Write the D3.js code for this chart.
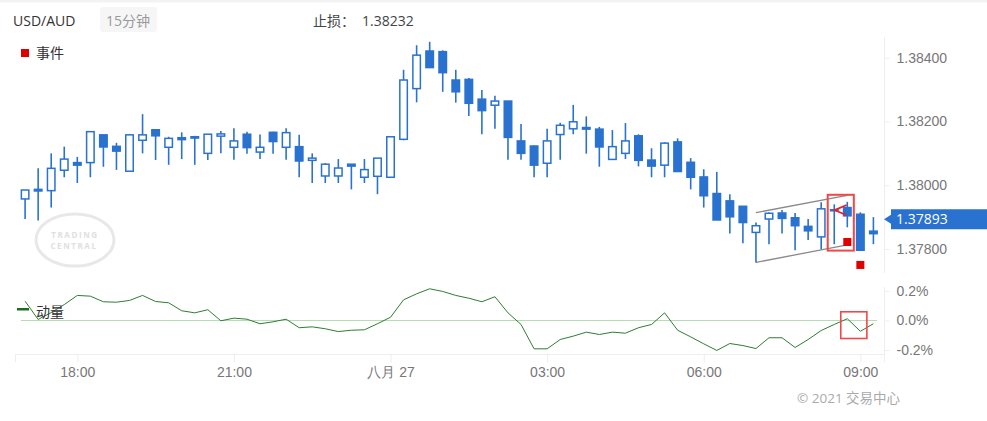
<!DOCTYPE html>
<html><head><meta charset="utf-8">
<script src="https://cdn.jsdelivr.net/npm/d3@7"></script>
<style>
html,body{margin:0;padding:0;background:#fff;}
svg{display:block;font-family:"Open Sans","Noto Sans CJK SC",sans-serif;}
</style></head>
<body>
<svg id="c" width="987" height="421"></svg>
<script>
// ---- data ----
const startTime = new Date(2021, 7, 26, 17, 0);
const barMinutes = 15;
const open = [1.37957,1.37987,1.37983,1.38047,1.38071,1.38071,1.38158,1.38122,1.38044,1.38141,
1.38174,1.38119,1.38149,1.38152,1.38100,1.38154,1.38119,1.38160,1.38104,1.38166,
1.38119,1.38121,1.38078,1.38029,1.38029,1.38066,1.38025,1.38028,1.38025,1.38144,
1.38303,1.38421,1.38419,1.38330,1.38332,1.38270,1.38251,1.38264,1.38139,1.38123,
1.38069,1.38159,1.38177,1.38181,1.38176,1.38081,1.38100,1.38155,1.38079,1.38063,
1.38136,1.38072,1.38026,1.37974,1.37951,1.37934,1.37852,1.37894,1.37913,1.37898,
1.37871,1.37838,1.37923,1.37930,1.37909,1.37856];
const close = [1.37985,1.37982,1.38053,1.38082,1.38063,1.38168,1.38120,1.38107,1.38158,1.38158,
1.38155,1.38147,1.38143,1.38148,1.38160,1.38161,1.38139,1.38118,1.38119,1.38137,
1.38165,1.38076,1.38085,1.38066,1.38054,1.38060,1.38049,1.38085,1.38152,1.38330,
1.38408,1.38369,1.38353,1.38293,1.38257,1.38234,1.38264,1.38150,1.38100,1.38063,
1.38139,1.38188,1.38199,1.38176,1.38120,1.38121,1.38139,1.38078,1.38060,1.38132,
1.38043,1.38025,1.37967,1.37891,1.37901,1.37883,1.37873,1.37912,1.37896,1.37873,
1.37857,1.37926,1.37922,1.37904,1.37796,1.37848];
const high = [1.37985,1.38053,1.38100,1.38121,1.38089,1.38168,1.38158,1.38133,1.38161,1.38223,
1.38176,1.38152,1.38166,1.38155,1.38160,1.38170,1.38179,1.38168,1.38159,1.38168,
1.38179,1.38158,1.38100,1.38069,1.38082,1.38066,1.38082,1.38085,1.38152,1.38362,
1.38439,1.38450,1.38423,1.38362,1.38336,1.38299,1.38281,1.38264,1.38192,1.38125,
1.38177,1.38196,1.38252,1.38216,1.38183,1.38173,1.38195,1.38160,1.38116,1.38135,
1.38147,1.38085,1.38050,1.38042,1.37972,1.37934,1.37883,1.37915,1.37922,1.37913,
1.37894,1.37947,1.37940,1.37948,1.37915,1.37900];
const low = [1.37894,1.37889,1.37930,1.38025,1.38007,1.38025,1.38058,1.38048,1.38044,1.38100,
1.38079,1.38064,1.38082,1.38064,1.38079,1.38100,1.38080,1.38099,1.38082,1.38099,
1.38080,1.38025,1.38007,1.38007,1.38007,1.37987,1.38007,1.37972,1.38025,1.38141,
1.38260,1.38369,1.38293,1.38259,1.38217,1.38160,1.38177,1.38080,1.38080,1.38025,
1.38025,1.38080,1.38160,1.38099,1.38058,1.38079,1.38082,1.38059,1.38025,1.38025,
1.38043,1.37987,1.37930,1.37891,1.37849,1.37818,1.37758,1.37815,1.37849,1.37796,
1.37828,1.37799,1.37815,1.37868,1.37796,1.37815];
const momentum = [0.131,0.007,0.054,0.108,0.170,0.165,0.127,0.124,0.136,0.170,
0.129,0.120,0.066,0.052,0.073,-0.002,0.016,0.009,-0.022,-0.009,
0.009,-0.049,-0.043,-0.056,-0.075,-0.066,-0.063,-0.022,0.022,0.140,
0.181,0.215,0.197,0.170,0.151,0.127,0.161,0.052,-0.027,-0.192,
-0.192,-0.129,-0.106,-0.079,-0.095,-0.079,-0.086,-0.049,-0.027,0.052,
-0.066,-0.111,-0.158,-0.203,-0.156,-0.170,-0.190,-0.117,-0.117,-0.183,
-0.129,-0.068,-0.027,0.012,-0.073,-0.022];
const priceTicks = [1.378, 1.380, 1.382, 1.384];
const momTicks = [-0.2, 0, 0.2];
const timeTicks = [new Date(2021,7,26,18), new Date(2021,7,26,21), new Date(2021,7,27,0),
                   new Date(2021,7,27,3), new Date(2021,7,27,6), new Date(2021,7,27,9)];
const timeTickLabels = ["18:00","21:00","八月 27","03:00","06:00","09:00"];
const symbol = "USD/AUD", interval = "15分钟", stopLabel = "止损：", stopValue = "1.38232";
const lastPrice = 1.37893;
const channelUpper = [[56, 1.37914],[63, 1.37968]];
const channelLower = [[56, 1.37758],[63, 1.37813]];
const eventBars = [[63, 1.37822],[64, 1.37750]];
const highlightBox = {i0: 61.5, i1: 63.5, pTop: 1.37970, pBot: 1.37795};
const momBox = {i0: 62.5, i1: 64.5, mTop: 0.059, mBot: -0.122};
const arrowPts = [[62.95, 1.37938],[62.03, 1.37922],[62.95, 1.37906]];

// ---- scales ----
const times = open.map((_, i) => new Date(startTime.getTime() + i * barMinutes * 60000));
const tAt = i => new Date(startTime.getTime() + i * barMinutes * 60000);
const x = d3.scaleTime().domain([times[0], times[times.length-1]]).range([25.1, 873.4]);
const y = d3.scaleLinear().domain([1.378, 1.384]).range([249, 57.7]);
const ym = d3.scaleLinear().domain([-0.2, 0.2]).range([350, 291]);

const svg = d3.select("#c");
const COL = "#2a72d0";

// top band
svg.append("rect").attr("x",0).attr("y",0).attr("width",987).attr("height",2.5).attr("fill","#f3f3f3");

// header
svg.append("text").attr("x",13).attr("y",26).attr("font-size",14).attr("fill","#333").text(symbol);
svg.append("rect").attr("x",100).attr("y",7).attr("width",57).attr("height",25).attr("rx",3).attr("fill","#f6f6f6");
svg.append("text").attr("x",106).attr("y",26).attr("font-size",14).attr("fill","#999").text(interval);
svg.append("text").attr("x",313).attr("y",26).attr("font-size",14).attr("fill","#444").text(stopLabel);
svg.append("text").attr("x",362).attr("y",26).attr("font-size",14).attr("fill","#444").text(stopValue);

// legend event
svg.append("rect").attr("x",21).attr("y",49).attr("width",8).attr("height",8).attr("fill","#e00000");
svg.append("text").attr("x",36).attr("y",58).attr("font-size",14).attr("fill","#333").text("事件");

// watermark
const wm = svg.append("g");
wm.append("ellipse").attr("cx",75).attr("cy",240).attr("rx",39).attr("ry",26).attr("fill","none").attr("stroke","#e8e8e8").attr("stroke-width",3);
wm.append("text").attr("x",75).attr("y",237.5).attr("text-anchor","middle").attr("font-size",8).attr("letter-spacing",1.6)
  .attr("font-weight","bold").attr("fill","#e0e0e0").text("TRADING");
wm.append("text").attr("x",74).attr("y",248.5).attr("text-anchor","middle").attr("font-size",8).attr("letter-spacing",1.6)
  .attr("font-weight","bold").attr("fill","#e0e0e0").text("CENTRAL");

// axes frame lines
svg.append("line").attr("x1",884.5).attr("x2",884.5).attr("y1",37).attr("y2",273).attr("stroke","#eeeeee");
svg.append("line").attr("x1",884.5).attr("x2",884.5).attr("y1",287).attr("y2",362).attr("stroke","#eeeeee");
svg.append("line").attr("x1",15).attr("x2",884).attr("y1",354.5).attr("y2",354.5).attr("stroke","#eeeeee");

// price axis
const pa = svg.append("g").attr("transform","translate(884.5,0)")
  .call(d3.axisRight(y).tickValues(priceTicks).tickFormat(d3.format(".5f")).tickSize(5).tickPadding(7));
pa.select(".domain").remove();
pa.selectAll("line").attr("stroke","#eeeeee");
pa.selectAll("text").attr("font-size",14).attr("fill","#777").attr("font-family",null);

// momentum axis
const ma = svg.append("g").attr("transform","translate(884.5,0)")
  .call(d3.axisRight(ym).tickValues(momTicks).tickFormat(d => d.toFixed(1) + "%").tickSize(5).tickPadding(7));
ma.select(".domain").remove();
ma.selectAll("line").attr("stroke","#eeeeee");
ma.selectAll("text").attr("font-size",14).attr("fill","#777").attr("font-family",null);

// time axis
const ta = svg.append("g").attr("transform","translate(0,354.5)")
  .call(d3.axisBottom(x).tickValues(timeTicks).tickFormat((d,i) => timeTickLabels[i]).tickSize(8).tickPadding(5));
ta.select(".domain").remove();
ta.selectAll("line").attr("stroke","#eeeeee");
ta.selectAll("text").attr("font-size",14).attr("fill","#777").attr("font-family",null);
svg.append("line").attr("x1",15.5).attr("x2",15.5).attr("y1",354).attr("y2",362).attr("stroke","#eeeeee");

// channel lines
const lineP = d3.line().x(d => x(tAt(d[0]))).y(d => y(d[1]));
svg.append("path").attr("d", lineP(channelUpper)).attr("fill","none").attr("stroke","#8a8a8a").attr("stroke-width",1.3);
svg.append("path").attr("d", lineP(channelLower)).attr("fill","none").attr("stroke","#8a8a8a").attr("stroke-width",1.3);

// candles
const cg = svg.append("g");
times.forEach((t, i) => {
  const cx = x(t);
  cg.append("line").attr("x1",cx).attr("x2",cx).attr("y1",y(high[i])).attr("y2",y(low[i]))
    .attr("stroke",COL).attr("stroke-width",1.6);
  const up = close[i] >= open[i];
  const top = y(Math.max(open[i], close[i])), bot = y(Math.min(open[i], close[i]));
  const h = Math.max(bot - top, 1);
  cg.append("rect").attr("x",cx-3.75).attr("y",top).attr("width",7.5).attr("height",h)
    .attr("fill", up ? "#fff" : COL).attr("stroke",COL).attr("stroke-width",1.5);
});

// highlight box, arrow, events
svg.append("rect").attr("x", x(tAt(highlightBox.i0))).attr("y", y(highlightBox.pTop))
  .attr("width", x(tAt(highlightBox.i1)) - x(tAt(highlightBox.i0)))
  .attr("height", y(highlightBox.pBot) - y(highlightBox.pTop))
  .attr("fill","none").attr("stroke","#f04848").attr("stroke-width",2);
svg.append("path").attr("d", lineP(arrowPts)).attr("fill","none").attr("stroke","#e8202a").attr("stroke-width",1.8);
eventBars.forEach(e => {
  svg.append("rect").attr("x", x(tAt(e[0])) - 4).attr("y", y(e[1]) - 4).attr("width",8).attr("height",8).attr("fill","#e00000");
});

// last price tag
const ly = y(lastPrice);
svg.append("path").attr("d", `M884,${ly} L891,${ly-4.5} L891,${ly-10} L987,${ly-10} L987,${ly+10} L891,${ly+10} L891,${ly+4.5} Z`).attr("fill",COL);
svg.append("text").attr("x",896).attr("y",ly+5).attr("font-size",14).attr("fill","#fff").text(d3.format(".5f")(lastPrice));

// momentum panel
svg.append("line").attr("x1",21).attr("x2",877).attr("y1",ym(0)).attr("y2",ym(0)).attr("stroke","#b8dcb8").attr("stroke-width",1);
const lineM = d3.line().x((d,i) => x(times[i])).y(d => ym(d));
svg.append("path").attr("d", lineM(momentum)).attr("fill","none").attr("stroke","#2e7d32").attr("stroke-width",1);
svg.append("rect").attr("x", x(tAt(momBox.i0))).attr("y", ym(momBox.mTop))
  .attr("width", x(tAt(momBox.i1)) - x(tAt(momBox.i0)))
  .attr("height", ym(momBox.mBot) - ym(momBox.mTop))
  .attr("fill","none").attr("stroke","#f04848").attr("stroke-width",1.6);
svg.append("rect").attr("x",17).attr("y",308).attr("width",12).attr("height",2.5).attr("fill","#1b6e1f");
svg.append("text").attr("x",36).attr("y",317).attr("font-size",14).attr("fill","#333").text("动量");

// copyright
svg.append("text").attr("x",797).attr("y",403).attr("font-size",13.5).attr("fill","#aaa").text("© 2021 交易中心");
</script>
</body></html>
